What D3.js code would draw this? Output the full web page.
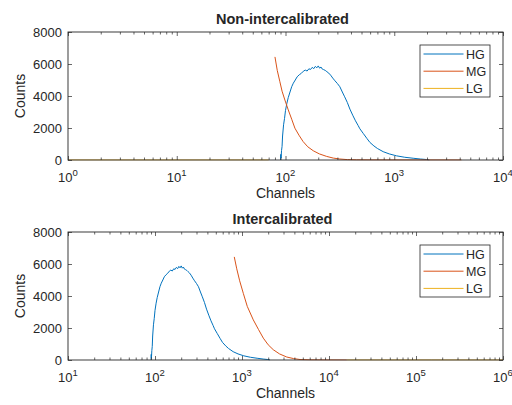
<!DOCTYPE html>
<html><head><meta charset="utf-8">
<script src="https://cdn.jsdelivr.net/npm/d3@7"></script>
<style>
body{margin:0;background:#fff}
text{font-family:"Liberation Sans",Arial,Helvetica,sans-serif;fill:#262626}
</style>
</head><body><svg id="c" width="512" height="405"></svg>
<script>
// ---------- data ----------
const seriesNames = ["HG", "MG", "LG"];
const seriesColors = ["#0072BD", "#D95319", "#EDB120"];
const yTicks = [0, 2000, 4000, 6000, 8000];
const titles = ["Non-intercalibrated", "Intercalibrated"];
const xDomainTop = [1, 1e4];
const xDomainBottom = [10, 1e6];

// HG (same in both panels)
const hgChannels = [90, 90.5, 91, 92, 93, 94, 96, 98, 100, 103, 106, 110, 114, 118, 123, 128, 134, 140, 146, 152, 158, 164, 170, 176, 182, 188, 194, 200, 206, 212, 218, 224, 232, 240, 250, 260, 272, 285, 300, 316, 333, 350, 370, 391, 415, 440, 466, 483, 520, 560, 597, 650, 700, 791, 900, 1050, 1250, 1492, 1750, 1982, 2100];
const hgCounts   = [0, 350, 120, 600, 850, 1500, 2200, 2600, 3100, 3550, 3900, 4250, 4580, 4800, 5000, 5200, 5330, 5420, 5550, 5620, 5560, 5700, 5660, 5790, 5710, 5850, 5760, 5880, 5740, 5810, 5680, 5650, 5600, 5520, 5430, 5300, 5120, 4950, 4780, 4580, 4250, 3950, 3600, 3180, 2800, 2450, 2150, 1950, 1650, 1350, 1100, 880, 720, 520, 380, 260, 170, 110, 60, 30, 0];

// MG non-intercalibrated
const mgChannelsTop = [80, 84, 88.8, 93, 98.7, 106, 114, 122, 133, 145, 160, 180, 205, 239, 275, 316, 370, 450, 600, 1000, 2000, 4150];
const mgCountsTop   = [6444, 5600, 4890, 4300, 3750, 3130, 2550, 1990, 1550, 1157, 830, 578, 380, 224, 120, 62, 25, 10, 5, 2, 1, 0];
// MG intercalibrated
const mgChannelsBottom = [815, 870, 940, 1035, 1150, 1349, 1550, 1758, 2000, 2291, 2700, 3266, 3900, 4645, 6000, 9000, 16000];
const mgCountsBottom   = [6444, 5700, 4950, 4167, 3350, 2507, 1900, 1368, 950, 640, 380, 187, 90, 30, 10, 3, 0];

// LG
const lgChannelsTop = [1, 3, 10, 30, 70];
const lgCountsTop   = [0, 0, 0, 0, 0];
const lgChannelsBottom = [16000, 50000, 150000, 500000, 1000000];
const lgCountsBottom   = [0, 0, 0, 0, 0];

// ---------- drawing ----------
const svg = d3.select("#c");
const L = 68, R = 503;
const panels = [
  {top: 32, bottom: 160, domain: xDomainTop, title: titles[0],
   series: [[hgChannels, hgCounts], [mgChannelsTop, mgCountsTop], [lgChannelsTop, lgCountsTop]]},
  {top: 232, bottom: 360, domain: xDomainBottom, title: titles[1],
   series: [[hgChannels, hgCounts], [mgChannelsBottom, mgCountsBottom], [lgChannelsBottom, lgCountsBottom]]}
];
const axisColor = "#262626";

panels.forEach(p => {
  const x = d3.scaleLog().domain(p.domain).range([L, R]);
  const y = d3.scaleLinear().domain([0, 8000]).range([p.bottom, p.top]);
  const g = svg.append("g");

  // curves
  const clipId = "clip" + p.top;
  svg.append("clipPath").attr("id", clipId).append("rect")
    .attr("x", L).attr("y", p.top - 1).attr("width", R - L).attr("height", p.bottom - p.top + 1.5);
  const line = d3.line().x(d => x(d[0])).y(d => y(d[1]));
  p.series.forEach((s, i) => {
    const pts = s[0].map((c, k) => [c, s[1][k]]);
    g.append("path").attr("d", line(pts)).attr("fill", "none")
      .attr("stroke", seriesColors[i]).attr("stroke-width", 1)
      .attr("clip-path", `url(#${clipId})`);
  });

  // x ticks (major + minor), inward on bottom and top
  const lo = Math.log10(p.domain[0]), hi = Math.log10(p.domain[1]);
  const majors = d3.range(lo, hi + 1).map(e => Math.pow(10, e));
  const minors = [];
  majors.slice(0, -1).forEach(m => { for (let k = 2; k <= 9; k++) minors.push(m * k); });

  const axB = d3.axisBottom(x).tickValues(majors).tickSizeInner(-4).tickSizeOuter(0).tickFormat("");
  const axBm = d3.axisBottom(x).tickValues(minors).tickSizeInner(-2.5).tickSizeOuter(0).tickFormat("");
  const axT = d3.axisTop(x).tickValues(majors).tickSizeInner(-4).tickSizeOuter(0).tickFormat("");
  const axTm = d3.axisTop(x).tickValues(minors).tickSizeInner(-2.5).tickSizeOuter(0).tickFormat("");
  [[axB, p.bottom], [axBm, p.bottom], [axT, p.top], [axTm, p.top]].forEach(([ax, ty]) => {
    const a = g.append("g").attr("transform", `translate(0,${ty})`).call(ax);
    a.select(".domain").remove();
    a.selectAll("line").attr("stroke", axisColor).attr("stroke-width", 0.7);
  });

  // y ticks left & right
  const axL = d3.axisLeft(y).tickValues(yTicks).tickSizeInner(-4).tickSizeOuter(0).tickFormat("");
  const axR = d3.axisRight(y).tickValues(yTicks).tickSizeInner(-4).tickSizeOuter(0).tickFormat("");
  [[axL, L], [axR, R]].forEach(([ax, tx]) => {
    const a = g.append("g").attr("transform", `translate(${tx},0)`).call(ax);
    a.select(".domain").remove();
    a.selectAll("line").attr("stroke", axisColor).attr("stroke-width", 0.7);
  });

  // box
  g.append("rect").attr("x", L).attr("y", p.top).attr("width", R - L).attr("height", p.bottom - p.top)
    .attr("fill", "none").attr("stroke", axisColor).attr("stroke-width", 0.9);

  // y tick labels
  yTicks.forEach(v => {
    g.append("text").attr("x", L - 6).attr("y", y(v)).attr("dy", "0.36em")
      .attr("text-anchor", "end").style("font-size", "13px").text(v);
  });
  // x tick labels 10^n
  majors.forEach(m => {
    const t = g.append("text").attr("x", x(m)).attr("y", p.bottom + 22)
      .attr("text-anchor", "middle").style("font-size", "13px");
    t.append("tspan").text("10");
    t.append("tspan").attr("dy", -6).style("font-size", "9.5px").text(Math.round(Math.log10(m)));
  });

  // labels
  g.append("text").attr("x", (L + R) / 2).attr("y", p.bottom + 38)
    .attr("text-anchor", "middle").style("font-size", "14px").text("Channels");
  g.append("text").attr("transform", `translate(25,${(p.top + p.bottom) / 2}) rotate(-90)`)
    .attr("text-anchor", "middle").style("font-size", "14px").text("Counts");
  g.append("text").attr("x", (L + R) / 2 - 3).attr("y", p.top - 8)
    .attr("text-anchor", "middle").style("font-size", "14.5px").style("font-weight", "bold").text(p.title);

  // legend
  const ly = p.top + 13;
  const lg = g.append("g");
  lg.append("rect").attr("x", 420).attr("y", ly).attr("width", 70).attr("height", 52)
    .attr("fill", "#fff").attr("stroke", axisColor).attr("stroke-width", 0.8);
  seriesNames.forEach((n, i) => {
    const yy = ly + 9 + i * 17.2;
    lg.append("line").attr("x1", 423.5).attr("x2", 463.5).attr("y1", yy).attr("y2", yy)
      .attr("stroke", seriesColors[i]).attr("stroke-width", 1);
    lg.append("text").attr("x", 466).attr("y", yy).attr("dy", "0.36em")
      .style("font-size", "12.5px").text(n);
  });
});
</script>
</body></html>
